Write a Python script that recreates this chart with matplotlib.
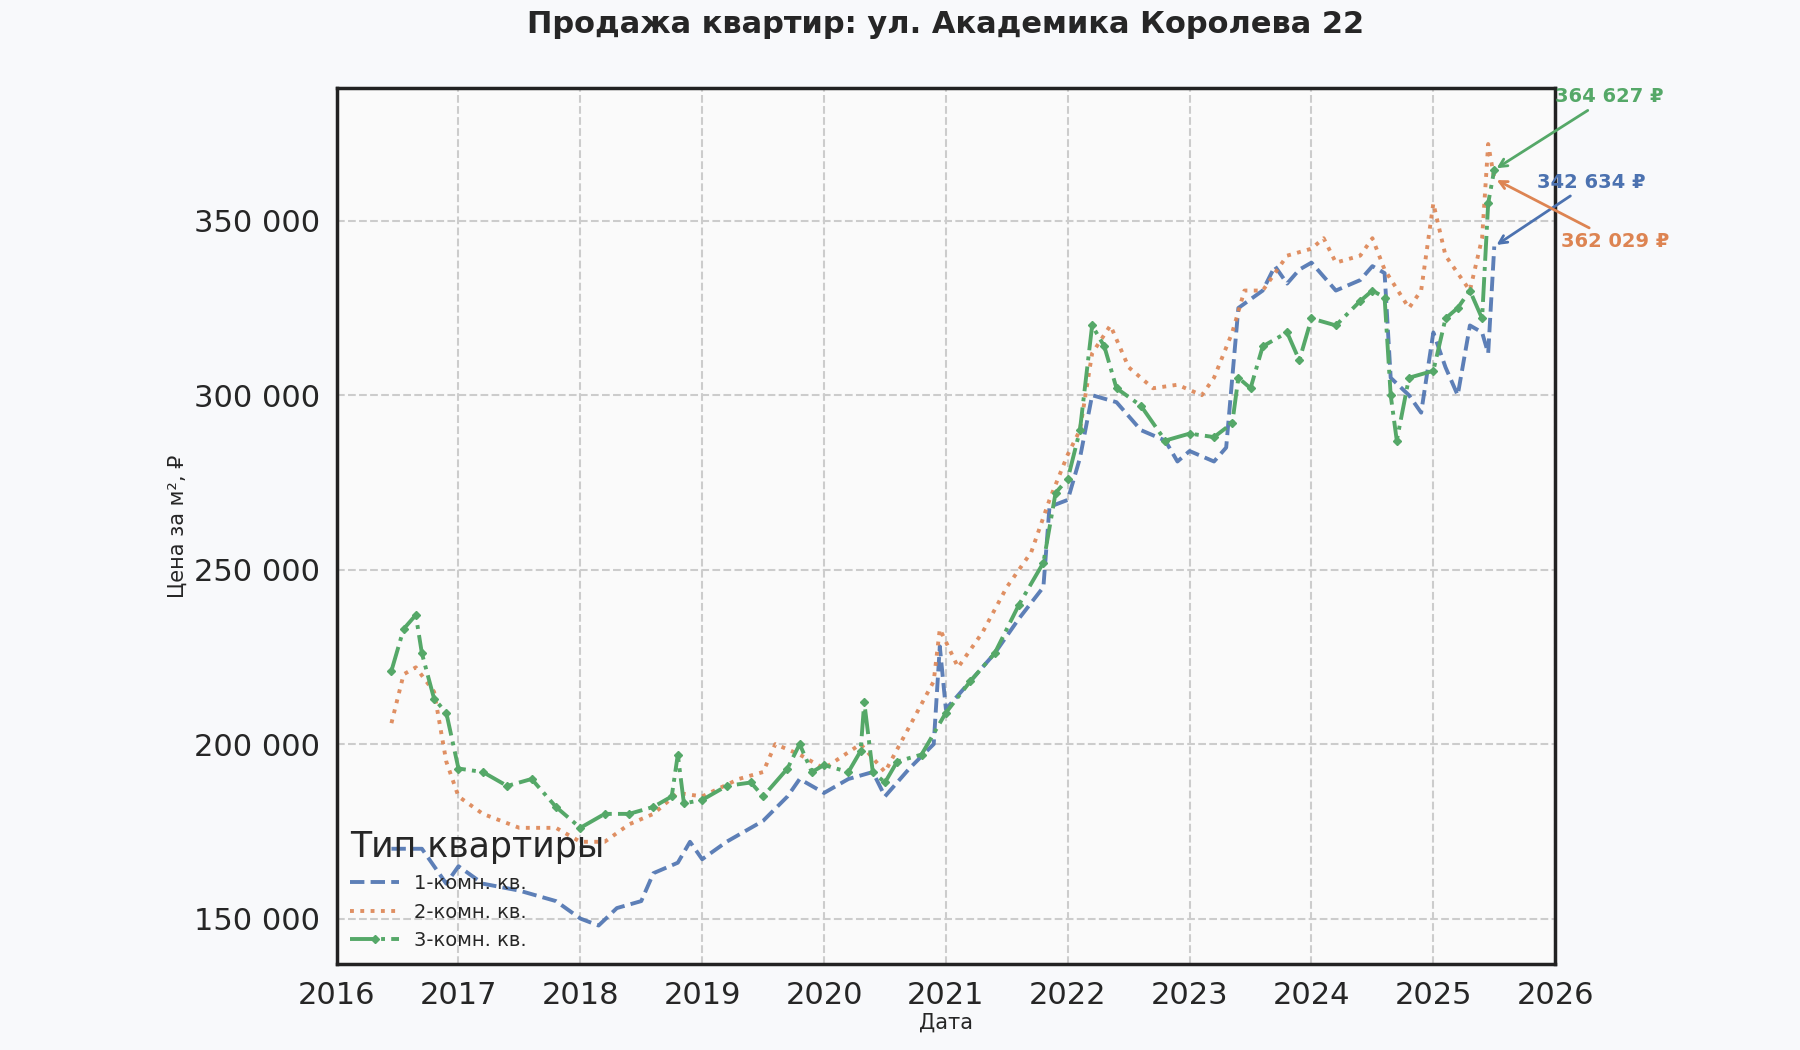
import matplotlib
matplotlib.use('Agg')
import matplotlib.pyplot as plt
import matplotlib.ticker as mticker

plt.rcParams['text.color'] = '#262626'
plt.rcParams['axes.labelcolor'] = '#262626'
plt.rcParams['xtick.color'] = '#262626'
plt.rcParams['ytick.color'] = '#262626'

# данные (десятичные годы -> цена за м2, тыс. ₽)
t1 = [2016.45, 2016.7, 2016.9, 2017.0, 2017.2, 2017.5, 2017.8, 2018.0, 2018.15, 2018.3, 2018.5, 2018.6, 2018.8, 2018.9,
      2019.0, 2019.2, 2019.5, 2019.7, 2019.8, 2020.0, 2020.2, 2020.4, 2020.5, 2020.7, 2020.9, 2020.95, 2021.0, 2021.2,
      2021.4, 2021.6, 2021.8, 2021.85, 2022.0, 2022.1, 2022.2, 2022.4, 2022.6, 2022.8, 2022.9, 2023.0, 2023.2, 2023.3,
      2023.4, 2023.6, 2023.7, 2023.8, 2023.9, 2024.0, 2024.2, 2024.4, 2024.5, 2024.6, 2024.65, 2024.8, 2024.9, 2025.0,
      2025.1, 2025.2, 2025.3, 2025.4, 2025.45, 2025.5]
v1 = [170, 170, 160, 165, 160, 158, 155, 150, 148, 153, 155, 163, 166, 172,
      167, 172, 178, 185, 190, 186, 190, 192, 185, 193, 200, 228, 210, 218,
      226, 236, 245, 268, 270, 282, 300, 298, 290, 287, 281, 284, 281, 285,
      325, 330, 337, 332, 336, 338, 330, 333, 337, 335, 305, 300, 295, 318,
      308, 300, 320, 318, 312, 342.634]

t2 = [2016.45, 2016.55, 2016.65, 2016.8, 2016.9, 2017.0, 2017.2, 2017.5, 2017.8, 2018.0, 2018.2, 2018.4, 2018.6, 2018.8,
      2019.0, 2019.3, 2019.5, 2019.6, 2019.8, 2020.0, 2020.3, 2020.5, 2020.7, 2020.9, 2020.95, 2021.1, 2021.3, 2021.5,
      2021.7, 2021.85, 2022.0, 2022.1, 2022.2, 2022.35, 2022.5, 2022.7, 2022.9, 2023.1, 2023.2, 2023.35, 2023.45, 2023.6,
      2023.8, 2024.0, 2024.1, 2024.2, 2024.4, 2024.5, 2024.6, 2024.8, 2024.9, 2025.0, 2025.1, 2025.2, 2025.3, 2025.4,
      2025.45, 2025.5]
v2 = [206, 220, 222, 215, 195, 185, 180, 176, 176, 172, 172, 177, 180, 186,
      185, 190, 192, 200, 197, 193, 200, 192, 205, 218, 233, 222, 232, 245,
      255, 270, 283, 290, 312, 320, 308, 302, 303, 300, 305, 318, 330, 330,
      340, 342, 345, 338, 340, 345, 336, 325, 330, 355, 340, 335, 330, 345,
      372, 362.029]

t3 = [2016.45, 2016.55, 2016.65, 2016.7, 2016.8, 2016.9, 2017.0, 2017.2, 2017.4, 2017.6, 2017.8, 2018.0, 2018.2, 2018.4,
      2018.6, 2018.75, 2018.8, 2018.85, 2019.0, 2019.2, 2019.4, 2019.5, 2019.7, 2019.8, 2019.9, 2020.0, 2020.2, 2020.3,
      2020.33, 2020.4, 2020.5, 2020.6, 2020.8, 2021.0, 2021.2, 2021.4, 2021.6, 2021.8, 2021.9, 2022.0, 2022.1, 2022.2,
      2022.3, 2022.4, 2022.6, 2022.8, 2023.0, 2023.2, 2023.35, 2023.4, 2023.5, 2023.6, 2023.8, 2023.9, 2024.0, 2024.2,
      2024.4, 2024.5, 2024.6, 2024.65, 2024.7, 2024.8, 2025.0, 2025.1, 2025.2, 2025.3, 2025.4, 2025.45, 2025.5]
v3 = [221, 233, 237, 226, 213, 209, 193, 192, 188, 190, 182, 176, 180, 180,
      182, 185, 197, 183, 184, 188, 189, 185, 193, 200, 192, 194, 192, 198,
      212, 192, 189, 195, 197, 209, 218, 226, 240, 252, 272, 276, 290, 320,
      314, 302, 297, 287, 289, 288, 292, 305, 302, 314, 318, 310, 322, 320,
      327, 330, 328, 300, 287, 305, 307, 322, 325, 330, 322, 355, 364.627]

labels = ['1-комн. кв.', '2-комн. кв.', '3-комн. кв.']
colors = ['#4c72b0', '#dd8452', '#55a868']


def fmt(x, pos=None):
    return f"{int(round(x)):,}".replace(',', ' ')


fig = plt.figure(figsize=(18, 10.5), dpi=100, facecolor='#f8f9fb')
ax = fig.add_axes([0.187, 0.082, 0.677, 0.834], facecolor='#fafafa')

ax.plot(t1, [v * 1000 for v in v1], '--', color=colors[0], lw=2.8, alpha=0.9, label=labels[0])
ax.plot(t2, [v * 1000 for v in v2], ':', color=colors[1], lw=2.8, alpha=0.9, label=labels[1])
ax.plot(t3, [v * 1000 for v in v3], '-.', color=colors[2], lw=2.8, marker='D', ms=4, label=labels[2])

ax.set_xlim(2016, 2026)
ax.set_ylim(137000, 388000)
ax.set_xticks(range(2016, 2027))
ax.set_yticks([150000, 200000, 250000, 300000, 350000])
ax.yaxis.set_major_formatter(mticker.FuncFormatter(fmt))
ax.tick_params(labelsize=22, length=0, pad=12)
ax.grid(True, ls='--', lw=1.5, color='#cccccc')
for s in ax.spines.values():
    s.set_linewidth(2.5)
    s.set_color('#222222')

ax.set_title('Продажа квартир: ул. Академика Королева 22', fontsize=22, fontweight='bold', pad=40)
ax.set_ylabel('Цена за м², ₽', fontsize=15)
ax.set_xlabel('Дата', fontsize=15, labelpad=2)

# подписи последних значений
ends = [(t1[-1], v1[-1], 2025.85, 359500, colors[0]),
        (t2[-1], v2[-1], 2026.05, 342500, colors[1]),
        (t3[-1], v3[-1], 2026.0, 384000, colors[2])]
for x, v, tx, ty, c in ends:
    ax.annotate(fmt(v * 1000) + ' ₽', xy=(x, v * 1000), xytext=(tx, ty), color=c,
                fontsize=14, fontweight='bold', annotation_clip=False,
                arrowprops=dict(arrowstyle='->', color=c, lw=2))

leg = ax.legend(title='Тип квартиры', loc='lower left', frameon=False, fontsize=14,
                title_fontsize=25, handlelength=2.5, borderaxespad=0.3)
leg._legend_box.align = 'left'

fig.savefig('out.png', dpi=100, facecolor=fig.get_facecolor())
